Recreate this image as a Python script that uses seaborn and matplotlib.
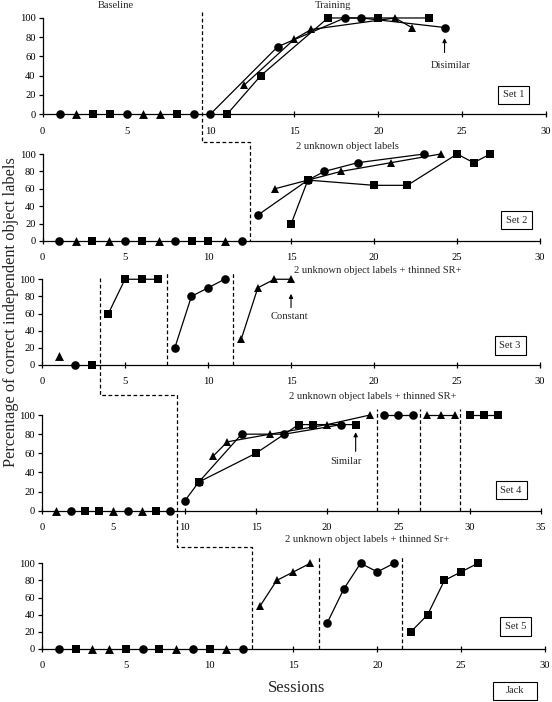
import matplotlib
matplotlib.use('Agg')
import matplotlib.pyplot as plt
from matplotlib.lines import Line2D
from matplotlib.patches import Rectangle
import seaborn as sns

sns.set_theme(style='ticks')
plt.rcParams['font.family'] = ['Liberation Serif', 'DejaVu Serif']

# ---- data (session, percentage correct) ----
# Set 1
set1_base_x = [1, 2, 3, 4, 5, 6, 7, 8, 9]
set1_base_shape = ['o', '^', 's', 's', 'o', '^', '^', 's', 'o']
set1_circle_x = [10, 14, 18, 19, 24]
set1_circle_y = [0, 70, 100, 100, 90]
set1_tri_x = [12, 15, 16, 21, 22]
set1_tri_y = [30, 78, 88, 100, 90]
set1_sq_x = [11, 13, 17, 20, 23]
set1_sq_y = [0, 40, 100, 100, 100]

# Set 2
set2_base_x = [1, 2, 3, 4, 5, 6, 7, 8, 9, 10, 11, 12]
set2_base_shape = ['o', '^', 's', '^', 'o', 's', '^', 'o', 's', 's', '^', 'o']
set2_circle_x = [13, 16, 17, 19, 23]
set2_circle_y = [30, 70, 80, 90, 100]
set2_tri_x = [14, 16, 18, 21, 24]
set2_tri_y = [60, 70, 80, 90, 100]
set2_sq_x = [15, 16, 20, 22, 25, 26, 27]
set2_sq_y = [20, 70, 64, 64, 100, 90, 100]

# Set 3
set3_base_x = [1, 2, 3]
set3_base_y = [10, 0, 0]
set3_base_shape = ['^', 'o', 's']
set3_sq_x = [4, 5, 6, 7]
set3_sq_y = [60, 100, 100, 100]
set3_circle_x = [8, 9, 10, 11]
set3_circle_y = [20, 80, 90, 100]
set3_tri_x = [12, 13, 14, 15]
set3_tri_y = [30, 90, 100, 100]
set3_phase_x = [7.5, 11.5]

# Set 4
set4_base_x = [1, 2, 3, 4, 5, 6, 7, 8, 9]
set4_base_shape = ['^', 'o', 's', 's', '^', 'o', '^', 's', 'o']
set4_circle_x = [10, 11, 14, 17, 21]
set4_circle_y = [10, 30, 80, 80, 90]
set4_tri_x = [12, 13, 16, 20, 23]
set4_tri_y = [57, 72, 80, 90, 100]
set4_sq_x = [11, 15, 18, 19, 22]
set4_sq_y = [30, 60, 90, 90, 90]
set4_circle2_x = [24, 25, 26]
set4_tri2_x = [27, 28, 29]
set4_sq2_x = [30, 31, 32]
set4_final_y = [100, 100, 100]
set4_phase_x = [23.5, 26.5, 29.3]

# Set 5
set5_base_x = [1, 2, 3, 4, 5, 6, 7, 8, 9, 10, 11, 12]
set5_base_shape = ['o', 's', '^', '^', 's', 'o', 's', '^', 'o', 's', '^', 'o']
set5_tri_x = [13, 14, 15, 16]
set5_tri_y = [50, 80, 90, 100]
set5_circle_x = [17, 18, 19, 20, 21]
set5_circle_y = [30, 70, 100, 90, 100]
set5_sq_x = [22, 23, 24, 25, 26]
set5_sq_y = [20, 40, 80, 90, 100]
set5_phase_x = [16.5, 21.5]

MS = {'o': 6.2, '^': 6.4, 's': 5.4}
FS = 7.6


def draw_series(ax, xs, ys, shape):
    sns.lineplot(x=xs, y=ys, ax=ax, color='black', lw=0.9, marker=shape,
                 markersize=MS[shape], markeredgewidth=0, estimator=None,
                 sort=False, legend=False, clip_on=False, zorder=4)


def draw_points(ax, xs, shapes, ys=None):
    if ys is None:
        ys = [0] * len(xs)
    for m in ('o', '^', 's'):
        px = [x for x, s in zip(xs, shapes) if s == m]
        py = [y for y, s in zip(ys, shapes) if s == m]
        if px:
            sns.scatterplot(x=px, y=py, ax=ax, color='black', marker=m,
                            s=MS[m] ** 2, linewidth=0, legend=False,
                            clip_on=False, zorder=4)


def style_axis(ax, xmax):
    ax.set_xlim(0, xmax)
    ax.set_ylim(0, 100)
    ax.set_xticks(range(0, xmax + 1, 5))
    ax.set_yticks(range(0, 101, 20))
    ax.patch.set_visible(False)
    sns.despine(ax=ax)
    for sp in ('left', 'bottom'):
        ax.spines[sp].set_linewidth(0.9)
        ax.spines[sp].set_color('black')
    ax.tick_params(axis='y', direction='out', length=3, width=0.9, pad=2,
                   labelsize=FS, colors='black')
    ax.tick_params(axis='x', direction='inout', length=4, width=0.9, pad=7,
                   labelsize=FS, colors='black')
    ax.set_xlabel('')
    ax.set_ylabel('')


def set_box(ax, x, y, label):
    ax.text(x, y, label, fontsize=FS, ha='center', va='center',
            bbox=dict(boxstyle='square,pad=0.45', fc='white', ec='black', lw=0.8))


def arrow(ax, x, y0, y1):
    ax.annotate('', xy=(x, y1), xytext=(x, y0),
                arrowprops=dict(arrowstyle='-|>', color='black', lw=0.8,
                                mutation_scale=6, shrinkA=0, shrinkB=0),
                annotation_clip=False)


dash = (0, (3, 2))

fig = plt.figure(figsize=(5.52, 7.02), dpi=100)
ax1 = fig.add_axes([0.0774, 0.8376, 0.9118, 0.1368])
ax2 = fig.add_axes([0.0770, 0.6567, 0.9013, 0.1239])
ax3 = fig.add_axes([0.0761, 0.4801, 0.9022, 0.1221])
ax4 = fig.add_axes([0.0761, 0.2725, 0.9040, 0.1363])
ax5 = fig.add_axes([0.0761, 0.0755, 0.9112, 0.1221])

# Set 1
draw_points(ax1, set1_base_x, set1_base_shape)
draw_series(ax1, set1_circle_x, set1_circle_y, 'o')
draw_series(ax1, set1_tri_x, set1_tri_y, '^')
draw_series(ax1, set1_sq_x, set1_sq_y, 's')
style_axis(ax1, 30)
ax1.text(4.35, 113.5, 'Baseline', fontsize=FS, ha='center', va='center', clip_on=False)
ax1.text(17.3, 113.5, 'Training', fontsize=FS, ha='center', va='center', clip_on=False)
ax1.text(24.3, 50, 'Disimilar', fontsize=FS, ha='center', va='center')
arrow(ax1, 23.95, 64, 79)
set_box(ax1, 28.05, 20, 'Set 1')

# Set 2
draw_points(ax2, set2_base_x, set2_base_shape)
draw_series(ax2, set2_circle_x, set2_circle_y, 'o')
draw_series(ax2, set2_tri_x, set2_tri_y, '^')
draw_series(ax2, set2_sq_x, set2_sq_y, 's')
style_axis(ax2, 30)
ax2.text(18.4, 109, '2 unknown object labels', fontsize=FS, ha='center', va='center', clip_on=False)
set_box(ax2, 28.6, 24, 'Set 2')

# Set 3
draw_points(ax3, set3_base_x, set3_base_shape, set3_base_y)
draw_series(ax3, set3_sq_x, set3_sq_y, 's')
draw_series(ax3, set3_circle_x, set3_circle_y, 'o')
draw_series(ax3, set3_tri_x, set3_tri_y, '^')
style_axis(ax3, 30)
for px in set3_phase_x:
    ax3.plot([px, px], [0, 107], color='black', lw=0.9, ls=dash, clip_on=False)
ax3.text(20.2, 110.5, '2 unknown object labels + thinned SR+', fontsize=FS,
         ha='center', va='center', clip_on=False)
ax3.text(14.9, 57, 'Constant', fontsize=FS, ha='center', va='center')
arrow(ax3, 15, 67, 83)
set_box(ax3, 28.2, 23, 'Set 3')

# Set 4
draw_points(ax4, set4_base_x, set4_base_shape)
draw_series(ax4, set4_circle_x, set4_circle_y, 'o')
draw_series(ax4, set4_tri_x, set4_tri_y, '^')
draw_series(ax4, set4_sq_x, set4_sq_y, 's')
draw_series(ax4, set4_circle2_x, set4_final_y, 'o')
draw_series(ax4, set4_tri2_x, set4_final_y, '^')
draw_series(ax4, set4_sq2_x, set4_final_y, 's')
style_axis(ax4, 35)
for px in set4_phase_x:
    ax4.plot([px, px], [0, 106], color='black', lw=0.9, ls=dash, clip_on=False)
ax4.text(23.2, 119, '2 unknown object labels + thinned SR+', fontsize=FS,
         ha='center', va='center', clip_on=False)
ax4.text(21.3, 51, 'Similar', fontsize=FS, ha='center', va='center')
arrow(ax4, 22, 62, 82)
set_box(ax4, 32.9, 21.6, 'Set 4')

# Set 5
draw_points(ax5, set5_base_x, set5_base_shape)
draw_series(ax5, set5_tri_x, set5_tri_y, '^')
draw_series(ax5, set5_circle_x, set5_circle_y, 'o')
draw_series(ax5, set5_sq_x, set5_sq_y, 's')
style_axis(ax5, 30)
for px in set5_phase_x:
    ax5.plot([px, px], [0, 109], color='black', lw=0.9, ls=dash, clip_on=False)
ax5.text(19.4, 128, '2 unknown object labels + thinned Sr+', fontsize=FS,
         ha='center', va='center', clip_on=False)
set_box(ax5, 28.25, 26, 'Set 5')

# phase change lines that run across panels
links = [
    [(ax1, 9.5, 106), (ax2, 9.5, 114), (ax2, 12.5, 114), (ax2, 12.5, 0)],
    [(ax3, 3.5, 102), (ax4, 3.5, 121), (ax4, 9.5, 121),
     (ax5, 9.5, 119.4), (ax5, 12.5, 119.4), (ax5, 12.5, 0)],
]
inv = fig.transFigure.inverted()
for link in links:
    pts = [inv.transform(a.transData.transform((x, y))) for a, x, y in link]
    # keep vertical runs vertical across panels with different x scales
    for i in range(1, len(pts)):
        if link[i][1] == link[i - 1][1]:
            pts[i][0] = pts[i - 1][0]
    fig.add_artist(Line2D([p[0] for p in pts], [p[1] for p in pts],
                          transform=fig.transFigure, color='black', lw=0.9, ls=dash))

fig.text(0.02, 0.556, 'Percentage of correct independent object labels',
         rotation=90, fontsize=11.8, ha='center', va='center')
fig.text(0.538, 0.02, 'Sessions', fontsize=12, ha='center', va='center')
fig.add_artist(Rectangle((0.893, 0.0029), 0.0797, 0.0256, transform=fig.transFigure,
                         fc='white', ec='black', lw=0.8))
fig.text(0.933, 0.0157, 'Jack', fontsize=FS, ha='center', va='center')

fig.savefig('out.png', dpi=100)
